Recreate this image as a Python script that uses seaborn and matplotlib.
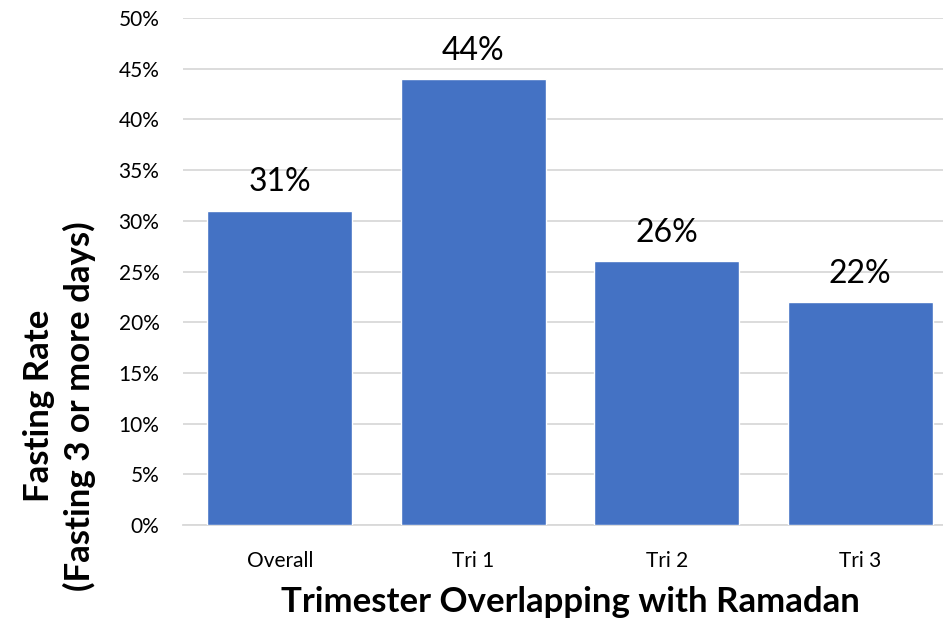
import matplotlib
matplotlib.use("Agg")
import matplotlib.pyplot as plt
import seaborn as sns
import pandas as pd
from matplotlib.ticker import PercentFormatter, MultipleLocator

categories = ["Overall", "Tri 1", "Tri 2", "Tri 3"]
fasting_rate = [31, 44, 26, 22]

df = pd.DataFrame({"group": categories, "rate": fasting_rate})

sns.set_theme(style="white")
plt.rcParams["font.family"] = ["Lato", "DejaVu Sans"]
plt.rcParams["text.color"] = "black"
plt.rcParams["axes.labelcolor"] = "black"

fig = plt.figure(figsize=(9.43, 6.25), dpi=100)
ax = fig.add_axes([183 / 943, 100 / 625, 774 / 943, 507 / 625])

sns.barplot(data=df, x="group", y="rate", color="#4472C4", width=0.75,
            saturation=1, ax=ax, zorder=3)

ax.set_ylim(0, 50)
ax.set_xlim(-0.5, 3.5)
ax.yaxis.set_major_locator(MultipleLocator(5))
ax.yaxis.set_major_formatter(PercentFormatter(decimals=0))
ax.grid(axis="y", color="#d9d9d9", linewidth=1.3, zorder=0)
for s in ["top", "right", "left"]:
    ax.spines[s].set_visible(False)
ax.spines["bottom"].set_color("#d9d9d9")
ax.spines["bottom"].set_linewidth(1.3)
ax.tick_params(axis="both", length=0, labelsize=15, colors="black")
ax.tick_params(axis="y", pad=17)
ax.tick_params(axis="x", pad=19)

for i, v in enumerate(fasting_rate):
    ax.text(i, v + 1.3, f"{v}%", ha="center", va="bottom", fontsize=23,
            color="black")

ax.set_xlabel("Trimester Overlapping with Ramadan", fontsize=25,
              fontweight="bold", color="black")
ax.xaxis.set_label_coords(0.5, -0.12)
ax.set_ylabel("Fasting Rate\n(Fasting 3 or more days)", fontsize=25,
              fontweight="bold", linespacing=1.3, color="black")
ax.yaxis.set_label_coords(-0.112, 0.235)

fig.savefig("out.png", dpi=100)
